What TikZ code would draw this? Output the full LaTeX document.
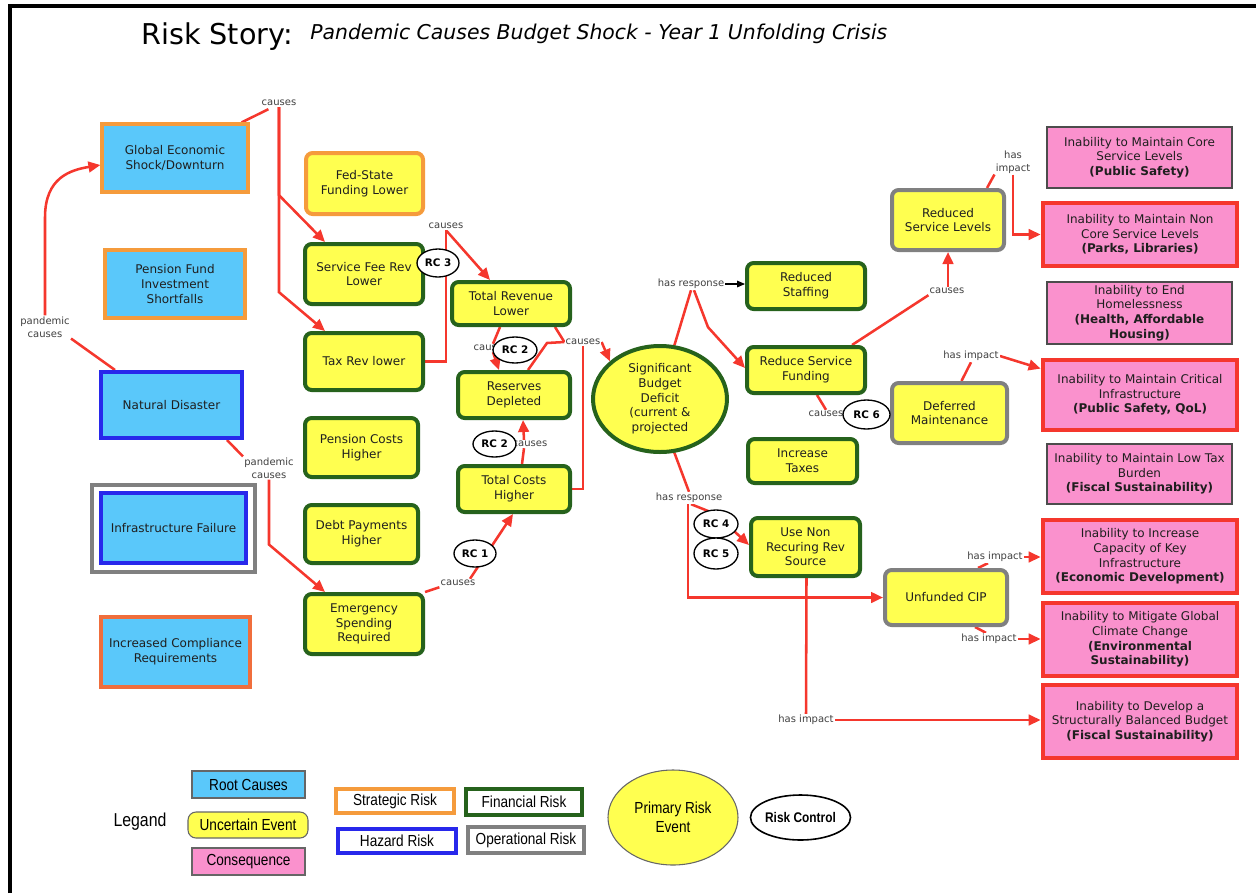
\documentclass[tikz,border=0pt]{standalone}
\usepackage{fontspec}
\setmainfont{DejaVu Sans}
\newfontfamily\legfont[FakeStretch=0.85]{Liberation Sans}
\usetikzlibrary{arrows.meta,shapes.geometric,calc}
\pgfdeclarelayer{bg}
\pgfsetlayers{bg,main}

\definecolor{skyb}{RGB}{90,200,250}
\definecolor{yel}{RGB}{255,255,80}
\definecolor{grn}{RGB}{38,98,28}
\definecolor{orng}{RGB}{245,155,60}
\definecolor{orred}{RGB}{240,110,60}
\definecolor{hblue}{RGB}{40,40,235}
\definecolor{opgray}{RGB}{128,128,128}
\definecolor{pnk}{RGB}{250,145,205}
\definecolor{redc}{RGB}{245,55,45}

% box from corner (x1,y1) to (x2,y2): #1 style, #2 name, #3..#6 corners, #7 text
\newcommand\rbox[7]{\node[#1,minimum width={(#5-#3)*0.75pt},minimum height={(#6-#4)*0.75pt}] (#2) at ({(#3+#5)/2},{(#4+#6)/2}) {#7};}

\begin{document}
\begin{tikzpicture}[x=0.75pt,y=-0.75pt,
  base/.style={align=center, inner sep=2pt, font=\fontsize{9}{11}\selectfont, text=black!88},
  root/.style={base, rectangle, fill=skyb, line width=2.4pt},
  evt/.style={base, rectangle, rounded corners=5pt, fill=yel, draw=grn, line width=3pt},
  opevt/.style={evt, draw=opgray},
  cons/.style={base, rectangle, fill=pnk, draw=black!70, line width=0.9pt},
  consx/.style={cons, draw=redc, line width=3.6pt},
  rcl/.style={ellipse, draw=black, fill=white, line width=1pt, inner sep=0pt, font=\bfseries\fontsize{7.8}{9}\selectfont},
  lab/.style={font=\fontsize{7.5}{9.5}\selectfont, text=black!75, fill=white, inner sep=0.8pt, align=center},
  edge/.style={draw=redc, line width=1.9pt},
  arr/.style={edge, -{Triangle[length=9pt,width=8pt]}},
  blk/.style={draw=black, line width=0.8pt, -{Triangle[length=6pt,width=5pt]}},
  leg/.style={align=center, inner sep=1pt, font=\legfont\fontsize{12}{14}\selectfont},
  legbox/.style={leg, rectangle, line width=2.4pt, fill=white},
]
\useasboundingbox (0,0) rectangle (1256,893);

% page frame (left and top rules)
\draw[line width=2.3pt] (10,893) -- (10,6) -- (1256,6);

% heading
\node[anchor=base west, inner sep=0] (title) at (141,44) {\fontsize{21.5}{24}\selectfont Risk Story:};
\node[anchor=base west, inner sep=0] (subtitle) at (310,39) {\itshape\fontsize{15.3}{18}\selectfont Pandemic Causes Budget Shock - Year 1 Unfolding Crisis};

% root causes
\rbox{root,draw=orng}{ges}{102}{124}{248}{192}{Global Economic\\Shock/Downturn}
\rbox{root,draw=orng}{pfi}{105}{250}{245}{318}{Pension Fund\\Investment\\Shortfalls}
\rbox{root,draw=hblue,line width=3pt}{nd}{101}{372}{242}{438}{Natural Disaster}
\rbox{draw=opgray,line width=3pt,rectangle}{iffr}{92}{485}{255}{572}{}
\rbox{root,draw=hblue,line width=3pt}{inf}{101}{493}{246}{563}{Infrastructure Failure}
\rbox{root,draw=orred}{icr}{101}{617}{250}{687}{Increased Compliance\\Requirements}

% uncertain events
\rbox{evt,draw=orng}{fsf}{306}{153}{423}{214}{Fed-State\\Funding Lower}
\rbox{evt}{sfr}{305}{244}{423}{304}{Service Fee Rev\\Lower}
\rbox{evt}{trl}{305}{333}{423}{390}{Tax Rev lower}
\rbox{evt}{pch}{305}{418}{418}{477}{Pension Costs\\Higher}
\rbox{evt}{dph}{305}{505}{418}{563}{Debt Payments\\Higher}
\rbox{evt}{esr}{305}{594}{423}{654}{Emergency\\Spending\\Required}
\rbox{evt}{trv}{452}{282}{570}{325}{Total Revenue\\Lower}
\rbox{evt}{rsd}{458}{372}{570}{418}{Reserves\\Depleted}
\rbox{evt}{tch}{458}{466}{570}{512}{Total Costs\\Higher}
\node[base, ellipse, fill=yel, draw=grn, line width=3pt, inner sep=0pt,
      minimum width=100.5pt, minimum height=79.5pt] (def) at (660,399)
      {Significant\\Budget\\Deficit\\(current \&\\projected};
\rbox{evt}{rst}{747}{263}{865}{309}{Reduced\\Staffing}
\rbox{evt}{rsf}{747}{347}{865}{393}{Reduce Service\\Funding}
\rbox{evt}{itx}{748}{439}{857}{483}{Increase\\Taxes}
\rbox{evt}{unr}{751}{518}{860}{576}{Use Non\\Recuring Rev\\Source}
\rbox{opevt}{rsl}{892}{190}{1004}{250}{Reduced\\Service Levels}
\rbox{opevt}{dfm}{892}{383}{1007}{443}{Deferred\\Maintenance}
\rbox{opevt}{ucip}{885}{570}{1007}{625}{Unfunded CIP}

% consequences
\rbox{cons}{c1}{1047}{127}{1232}{188}{Inability to Maintain Core\\Service Levels\\\textbf{(Public Safety)}}
\rbox{consx}{c2}{1043}{203}{1237}{266}{Inability to Maintain Non\\Core Service Levels\\\textbf{(Parks, Libraries)}}
\rbox{cons}{c3}{1047}{282}{1232}{344}{Inability to End\\Homelessness\\\textbf{(Health, Affordable}\\\textbf{Housing)}}
\rbox{consx}{c4}{1043}{360}{1237}{430}{Inability to Maintain Critical\\Infrastructure\\\textbf{(Public Safety, QoL)}}
\rbox{cons}{c5}{1047}{444}{1232}{504}{Inability to Maintain Low Tax\\Burden\\\textbf{(Fiscal Sustainability)}}
\rbox{consx}{c6}{1043}{520}{1237}{593}{Inability to Increase\\Capacity of Key\\Infrastructure\\\textbf{(Economic Development)}}
\rbox{consx}{c7}{1043}{603}{1237}{676}{Inability to Mitigate Global\\Climate Change\\\textbf{(Environmental}\\\textbf{Sustainability)}}
\rbox{consx}{c8}{1043}{685}{1237}{758}{Inability to Develop a\\Structurally Balanced Budget\\\textbf{(Fiscal Sustainability)}}

% link labels
\node[lab] (l1) at (279,103) {causes};
\node[lab] (l2) at (45,327) {pandemic\\causes};
\node[lab] (l3) at (269,468) {pandemic\\causes};
\node[lab] (l4) at (446,226) {causes};
\node[lab] (l5) at (491,348) {causes};
\node[lab] (l6) at (583,342) {causes};
\node[lab] (l7) at (530,444) {causes};
\node[lab] (l8) at (458,583) {causes};
\node[lab] (l9) at (691,284) {has response};
\node[lab] (l10) at (689,498) {has response};
\node[lab] (l11) at (947,291) {causes};
\node[lab] (l12) at (826,414) {causes};
\node[lab] (l13) at (1013,162) {has\\impact};
\node[lab] (l14) at (971,356) {has impact};
\node[lab] (l15) at (995,557) {has impact};
\node[lab] (l16) at (989,639) {has impact};
\node[lab] (l17) at (806,720) {has impact};

% risk controls
\rbox{rcl}{rc3}{417}{249}{459}{277}{RC 3}
\rbox{rcl}{rc2a}{493}{337}{537}{363}{RC 2}
\rbox{rcl}{rc2b}{473}{431}{516}{457}{RC 2}
\rbox{rcl}{rc1}{454}{540}{496}{567}{RC 1}
\rbox{rcl}{rc6}{843}{400}{890}{429}{RC 6}
\rbox{rcl}{rc4}{694}{510}{738}{538}{RC 4}
\rbox{rcl}{rc5}{694}{538}{738}{569}{RC 5}

% connectors
\begin{pgfonlayer}{bg}
\draw[edge] ($(ges.north east)+(-8,0)$) -- ($(l1.south west)+(8,2)$);
\draw[arr] (l1.south) -- ++(0,88) -- ($(sfr.north west)+(22,0)$);
\draw[arr] (l1.south) -- ++(0,185) -- ($(trl.north west)+(22,0)$);
\draw[edge] ($(nd.north west)+(16,0)$) -- (l2.south east);
\draw[arr] (l2.north) -- ++(0,-98) .. controls ++(0,-40) and ($(ges.west)+(-30,12)$) .. ($(ges.west)+(0,7)$);
\draw[edge] ($(nd.south east)+(-17,0)$) -- (l3.north west);
\draw[arr] (l3.south) -- ++(0,65) -- ($(esr.north west)+(22,0)$);
\draw[edge] (sfr.east) -| (l4.south);
\draw[edge] (trl.east) -| (l4.south);
\draw[arr] (l4.south) -- ($(trv.north west)+(40,0)$);
\draw[edge] ($(trv.south)+(-11,0)$) -- ($(l5.north)+(2,0)$);
\draw[arr] ($(l5.south)+(2,0)$) -- ($(rsd.north west)+(43,0)$);
\draw[edge] ($(trv.south east)+(-17,0)$) -- (l6.west);
\draw[edge] ($(rsd.north)+(14,0)$) -- ++(19,-27) -- (l6.west);
\draw[edge] (tch.east) -| (l6.south);
\draw[arr] (l6.east) -- (def.143);
\draw[edge] ($(tch.north)+(8,0)$) -- ($(l7.south)+(-6,0)$);
\draw[arr] ($(l7.north)+(-6,0)$) -- ($(rsd.south)+(9,0)$);
\draw[edge] (esr.north east) -- (l8.south west);
\draw[arr] ($(l8.north)+(12,0)$) -- ($(tch.south)+(-1,0)$);
\draw[edge] (def.75) -- (l9.south);
\draw[arr] ($(l9.south)+(3,0)$) -- ++(14,37) -- ($(rsf.west)+(0,-2)$);
\draw[edge] (def.-75) -- (l10.north);
\draw[arr] ($(l10.south)+(2,0)$) -- ++(25,10) -- ($(unr.west)+(0,-2)$);
\draw[arr] ($(l10.south)+(-1,0)$) |- (ucip.west);
\draw[edge] ($(rsf.north east)+(-15,0)$) -- (l11.south west);
\draw[arr] ($(l11.north)+(1,0)$) -- (rsl.south);
\draw[edge] ($(rsf.south)+(11,0)$) -- (l12.north);
\draw[edge] (l12.east) -- (dfm.west);
\draw[edge] ($(rsl.north east)+(-19,0)$) -- (l13.south west);
\draw[arr] (l13.south) |- (c2.west);
\draw[edge] ($(dfm.north)+(12,0)$) -- (l14.south);
\draw[arr] (l14.east) -- ($(c4.north west)+(0,11)$);
\draw[edge] ($(ucip.north)+(32,0)$) -- ($(l15.south)+(-7,0)$);
\draw[arr] (l15.east) -- (l15.east -| c6.west);
\draw[edge] ($(ucip.south)+(29,0)$) -- ($(l16.north)+(-3,0)$);
\draw[arr] (l16.east) -- (l16.east -| c7.west);
\draw[edge] ($(unr.south)+(1,0)$) -- (l17.north);
\draw[arr] (l17.east) -- (l17.east -| c8.west);
\end{pgfonlayer}
\draw[blk] (l9.east) -- (rst.west |- l9.east);

% legend
\node[leg, font=\legfont\fontsize{14}{16}\selectfont] (legand) at (140,822) {Legand};
\rbox{leg,rectangle,fill=skyb,draw=black!60,line width=0.8pt}{lgroot}{192}{771}{305}{798}{Root Causes}
\rbox{leg,rectangle,rounded corners=6pt,fill=yel,draw=black!60,line width=0.8pt}{lgunc}{188}{812}{308}{838}{Uncertain Event}
\rbox{leg,rectangle,fill=pnk,draw=black!60,line width=0.8pt}{lgcons}{192}{848}{305}{875}{Consequence}
\rbox{legbox,draw=orng}{lgstr}{336}{789}{454}{813}{Strategic Risk}
\rbox{legbox,draw=grn}{lgfin}{466}{789}{582}{815}{Financial Risk}
\rbox{legbox,draw=hblue}{lghaz}{338}{829}{456}{853}{Hazard Risk}
\rbox{legbox,draw=opgray}{lgop}{468}{827}{584}{853}{Operational Risk}
\rbox{leg,ellipse,fill=yel,draw=black!60,line width=0.8pt,inner sep=0pt}{lgpre}{608}{770}{738}{865}{Primary Risk\\Event}
\rbox{leg,ellipse,fill=white,draw=black,line width=1.2pt,inner sep=0pt,font=\legfont\bfseries\fontsize{10.5}{12}\selectfont}{lgrc}{763}{795}{838}{840}{Risk Control}
\end{tikzpicture}
\end{document}
